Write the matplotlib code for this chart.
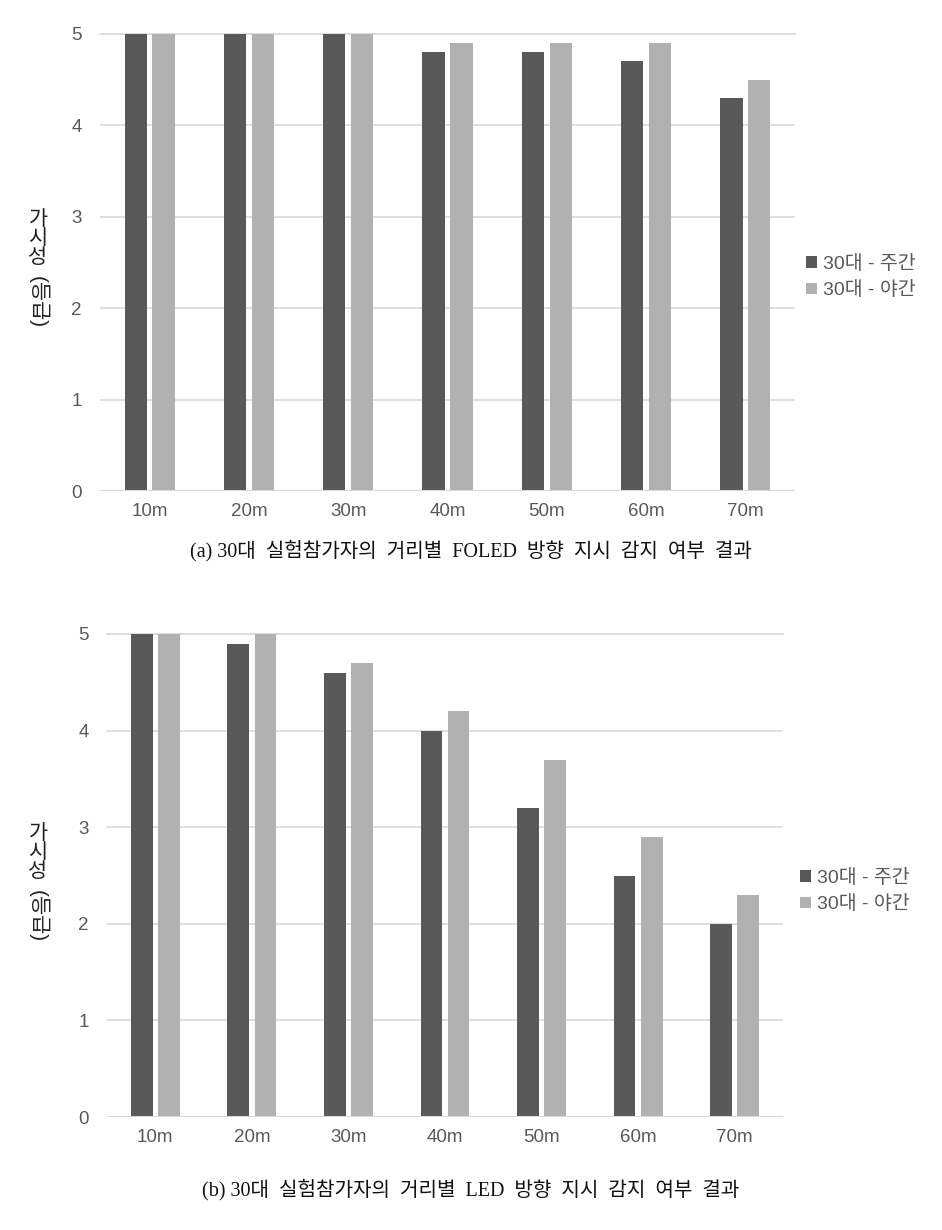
import matplotlib.pyplot as plt
import numpy as np

plt.rcParams['font.family'] = ['Liberation Sans', 'Noto Sans CJK KR']

distances = ["10m", "20m", "30m", "40m", "50m", "60m", "70m"]
series_names = ["30대 - 주간", "30대 - 야간"]

foled_day = [5, 5, 5, 4.8, 4.8, 4.7, 4.3]
foled_night = [5, 5, 5, 4.9, 4.9, 4.9, 4.5]

led_day = [5, 4.9, 4.6, 4.0, 3.2, 2.5, 2.0]
led_night = [5, 5, 4.7, 4.2, 3.7, 2.9, 2.3]

captions = ["(a) 30대  실험참가자의  거리별  FOLED  방향  지시  감지  여부  결과",
            "(b) 30대  실험참가자의  거리별  LED  방향  지시  감지  여부  결과"]

dark = "#595959"
light = "#b1b1b1"
grid_c = "#d9d9d9"
text_c = "#595959"

W, H = 942, 1230
fig = plt.figure(figsize=(W / 100, H / 100), dpi=100)


def px_box(left, right, top, bottom):
    return [left / W, 1 - bottom / H, (right - left) / W, (bottom - top) / H]


def draw(box, day, night, leg_x, leg_y, label_top, caption, cap_y):
    ax = fig.add_axes(px_box(*box))
    x = np.arange(len(distances))
    w = 0.225
    ax.bar(x - 0.14, day, w, color=dark, label=series_names[0], zorder=3)
    ax.bar(x + 0.14, night, w, color=light, label=series_names[1], zorder=3)
    ax.set_xlim(-0.5, len(distances) - 0.5)
    ax.set_ylim(0, 5)
    ax.set_yticks(range(6))
    ax.set_xticks(x)
    ax.set_xticklabels(distances)
    ax.grid(axis='y', color=grid_c, linewidth=1.2, zorder=0)
    ax.set_axisbelow(True)
    for s in ax.spines.values():
        s.set_visible(False)
    ax.axhline(0, color=grid_c, linewidth=1.5, zorder=4)
    ax.axhline(5, color=grid_c, linewidth=1.2, zorder=0, clip_on=False)
    ax.tick_params(length=0, labelsize=13.5, colors=text_c)
    ax.tick_params(axis='y', pad=13)
    ax.tick_params(axis='x', pad=9)
    ax.legend(loc='center left', bbox_to_anchor=(leg_x / W, 1 - leg_y / H),
              bbox_transform=fig.transFigure,
              frameon=False, fontsize=14, handlelength=0.55, handleheight=0.55,
              handletextpad=0.3, labelspacing=0.45, labelcolor=text_c,
              borderaxespad=0, borderpad=0)
    # y label: stacked syllables then rotated bracket part
    fig.text(38 / W, 1 - label_top / H, "가\n시\n성", ha='center', va='top',
             fontsize=15, linespacing=1.0, color="#222222")
    fig.text(38 / W, 1 - (label_top + 66) / H, "(등급)", ha='center', va='top',
             rotation=270, fontsize=15, color="#222222")
    fig.text(0.5, 1 - cap_y / H, caption, ha='center', va='center', fontsize=14.5,
             family=['Liberation Serif', 'Noto Sans CJK KR'], color="#111111")


draw((100, 795, 34, 491), foled_day, foled_night, 806, 277, 210, captions[0], 551)
draw((107, 783, 634, 1117), led_day, led_night, 800, 891, 824, captions[1], 1190)

fig.savefig("out.png", dpi=100)
